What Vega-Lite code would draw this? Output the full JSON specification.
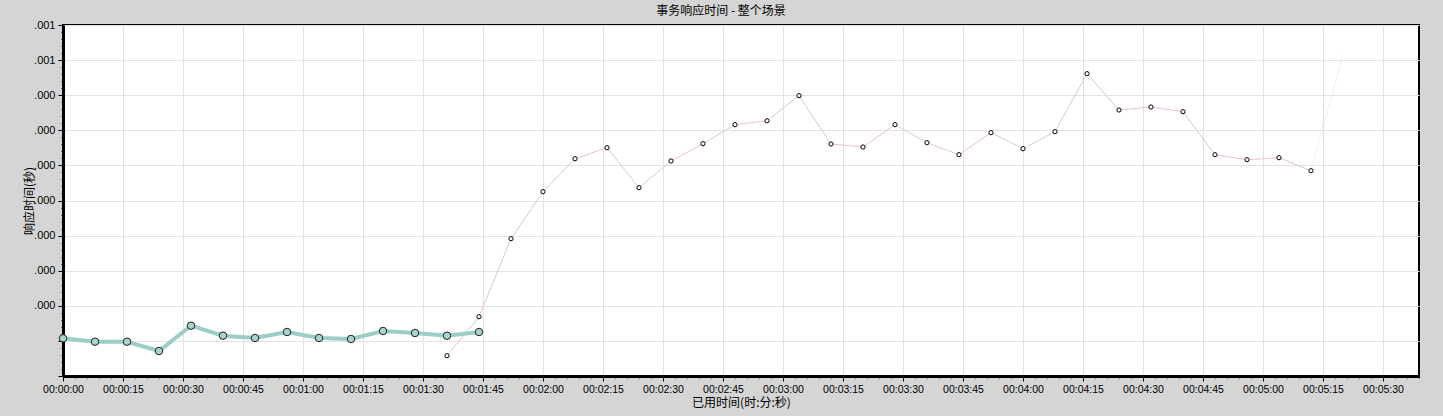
{
  "$schema": "https://vega.github.io/schema/vega-lite/v6.json",
  "autosize": {"type": "none"},
  "padding": {"left": 63, "top": 25, "right": 24, "bottom": 40},
  "width": 1356,
  "height": 351,
  "background": "#d5d5d5",
  "title": {"text": "事务响应时间 - 整个场景", "font": "Noto Sans CJK SC", "fontSize": 12, "fontWeight": "normal", "color": "#000000", "offset": 1, "dx": -20},
  "config": {
    "view": {"fill": "#ffffff", "stroke": "#000000", "strokeWidth": 2},
    "axis": {"labelFont": "Liberation Sans", "labelFontSize": 11, "labelColor": "#000000", "titleFont": "Noto Sans CJK SC", "titleFontWeight": "normal", "titleColor": "#000000", "domainColor": "#000000", "domainWidth": 3, "tickColor": "#000000", "gridColor": "#e2e2e2", "gridWidth": 1, "labelOverlap": false, "labelBound": false, "labelFlush": false}
  },
  "datasets": {
    "green": [
      {"t": 0, "rt": 0.0001074},
      {"t": 8, "rt": 0.0000977},
      {"t": 16, "rt": 0.0000977},
      {"t": 24, "rt": 0.0000712},
      {"t": 32, "rt": 0.0001433},
      {"t": 40, "rt": 0.0001148},
      {"t": 48, "rt": 0.0001083},
      {"t": 56, "rt": 0.0001254},
      {"t": 64, "rt": 0.0001083},
      {"t": 72, "rt": 0.0001054},
      {"t": 80, "rt": 0.0001282},
      {"t": 88, "rt": 0.0001225},
      {"t": 96, "rt": 0.0001148},
      {"t": 104, "rt": 0.0001254}
    ],
    "pink": [
      {"t": 96, "rt": 0.0000578},
      {"t": 104, "rt": 0.0001689},
      {"t": 112, "rt": 0.0003912},
      {"t": 120, "rt": 0.0005251},
      {"t": 128, "rt": 0.0006191},
      {"t": 136, "rt": 0.0006504},
      {"t": 144, "rt": 0.0005365},
      {"t": 152, "rt": 0.0006125},
      {"t": 160, "rt": 0.0006618},
      {"t": 168, "rt": 0.000716},
      {"t": 176, "rt": 0.0007271},
      {"t": 184, "rt": 0.0007986},
      {"t": 192, "rt": 0.000661},
      {"t": 200, "rt": 0.0006524},
      {"t": 208, "rt": 0.000716},
      {"t": 216, "rt": 0.0006647},
      {"t": 224, "rt": 0.0006305},
      {"t": 232, "rt": 0.0006932},
      {"t": 240, "rt": 0.0006476},
      {"t": 248, "rt": 0.000696},
      {"t": 256, "rt": 0.0008613},
      {"t": 264, "rt": 0.0007578},
      {"t": 272, "rt": 0.0007664},
      {"t": 280, "rt": 0.000753},
      {"t": 288, "rt": 0.0006305},
      {"t": 296, "rt": 0.0006162},
      {"t": 304, "rt": 0.0006219},
      {"t": 312, "rt": 0.0005849},
      {"t": 320, "rt": 0.000915}
    ]
  },
  "encoding": {
    "x": {
      "field": "t", "type": "quantitative",
      "scale": {"domain": [0, 339], "nice": false, "zero": false},
      "axis": {
        "title": "已用时间(时:分:秒)", "titleFontSize": 12, "titlePadding": 3,
        "values": [0,3,6,9,12,15,18,21,24,27,30,33,36,39,42,45,48,51,54,57,60,63,66,69,72,75,78,81,84,87,90,93,96,99,102,105,108,111,114,117,120,123,126,129,132,135,138,141,144,147,150,153,156,159,162,165,168,171,174,177,180,183,186,189,192,195,198,201,204,207,210,213,216,219,222,225,228,231,234,237,240,243,246,249,252,255,258,261,264,267,270,273,276,279,282,285,288,291,294,297,300,303,306,309,312,315,318,321,324,327,330,333,336,339],
        "labelExpr": "datum.value % 15 !== 0 ? '' : '00:0' + floor(datum.value/60) + ':' + (datum.value % 60 < 10 ? '0' : '') + (datum.value % 60)",
        "labelPadding": 3,
        "labelFontSize": 10.5,
        "tickSize": {"condition": {"test": "datum.value % 15 === 0", "value": 5}, "value": 2},
        "gridOpacity": {"condition": {"test": "datum.value % 15 === 0", "value": 1}, "value": 0}
      }
    },
    "y": {
      "field": "rt", "type": "quantitative",
      "scale": {"domain": [0, 0.001], "nice": false},
      "axis": {
        "title": "响应时间(秒)", "titleFontSize": 12, "titlePadding": -3,
        "values": [0,0.00002,0.00004,0.00006,0.00008,0.0001,0.00012,0.00014,0.00016,0.00018,0.0002,0.00022,0.00024,0.00026,0.00028,0.0003,0.00032,0.00034,0.00036,0.00038,0.0004,0.00042,0.00044,0.00046,0.00048,0.0005,0.00052,0.00054,0.00056,0.00058,0.0006,0.00062,0.00064,0.00066,0.00068,0.0007,0.00072,0.00074,0.00076,0.00078,0.0008,0.00082,0.00084,0.00086,0.00088,0.0009,0.00092,0.00094,0.00096,0.00098,0.001],
        "labelExpr": "round(datum.value*100000) % 10 !== 0 ? '' : (datum.value >= 0.00085 ? '.001' : (datum.value >= 0.00015 ? '.000' : ''))",
        "labelPadding": 3,
        "tickSize": {"condition": {"test": "round(datum.value*100000) % 10 === 0", "value": 5}, "value": 2},
        "gridOpacity": {"condition": {"test": "round(datum.value*100000) % 10 === 0", "value": 1}, "value": 0}
      }
    }
  },
  "layer": [
    {
      "data": {"name": "pink"},
      "transform": [{"filter": "datum.t <= 312"}],
      "mark": {"type": "line", "color": "#e6c3ca", "strokeWidth": 1}
    },
    {
      "data": {"name": "pink"},
      "transform": [{"filter": "datum.t >= 312"}],
      "mark": {"type": "line", "color": "#e6c3ca", "strokeWidth": 1, "opacity": 0.35}
    },
    {
      "data": {"name": "pink"},
      "transform": [{"filter": "datum.t < 320"}],
      "mark": {"type": "point", "shape": "circle", "filled": true, "fill": "#ffffff", "stroke": "#000000", "strokeWidth": 1, "size": 18, "opacity": 1}
    },
    {
      "data": {"name": "green"},
      "mark": {"type": "line", "color": "#9ccdc6", "strokeWidth": 4}
    },
    {
      "data": {"name": "green"},
      "mark": {"type": "point", "shape": "circle", "filled": true, "fill": "#a9d3cc", "stroke": "#222222", "strokeWidth": 1, "size": 56, "opacity": 1}
    }
  ]
}
